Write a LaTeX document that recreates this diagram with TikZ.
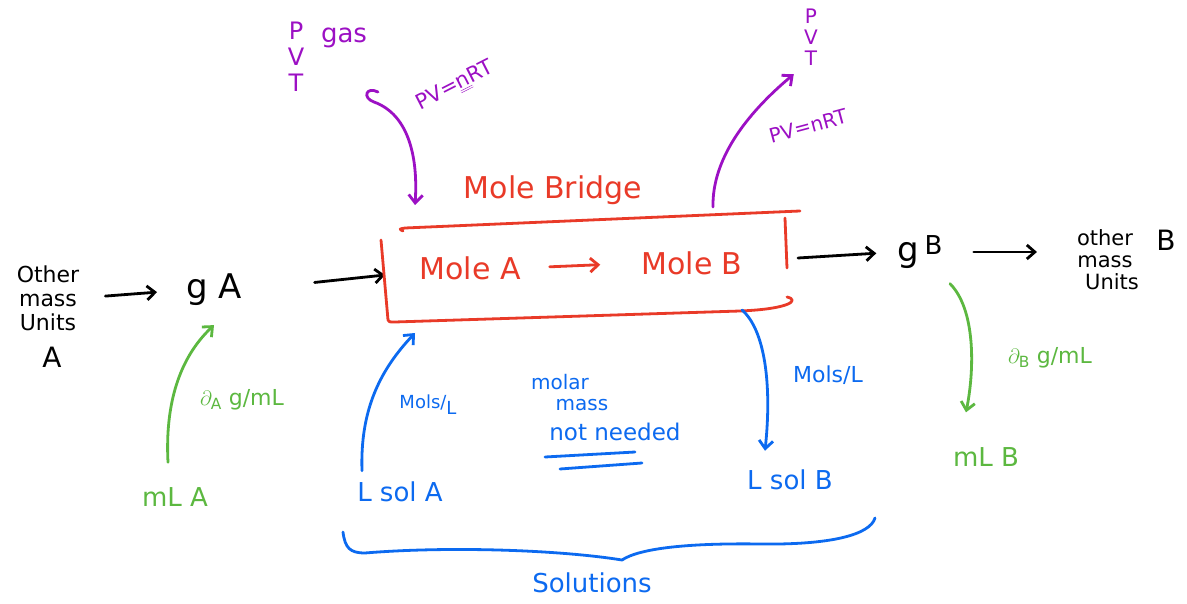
\documentclass[tikz,border=0pt]{standalone}
\usepackage{fontspec}
\setmainfont{DejaVu Sans}
\usetikzlibrary{arrows.meta}
\definecolor{hred}{RGB}{233,58,40}
\definecolor{hpur}{RGB}{156,16,196}
\definecolor{hblu}{RGB}{12,106,240}
\definecolor{hgrn}{RGB}{92,184,64}
\tikzset{
  ink/.style={line width=2.8pt,line cap=round,line join=round},
  arr/.style={ink,-{Straight Barb[length=8pt,width=14pt]}},
  txt/.style={inner sep=1pt,align=center},
  fs/.style={font=\fontsize{#1}{#1}\selectfont},
}
\begin{document}
\begin{tikzpicture}[x=1pt,y=-1pt]
\fill[white] (0,0) rectangle (1187,604);
\useasboundingbox (0,0) rectangle (1187,604);

% ---------- black: mass units and grams ----------
\node[txt,font=\fontsize{22}{24}\selectfont] (oA) at (48,298) {Other\\mass\\Units};
\node[txt,fs=28] (oAA) at (52,357) {A};
\node[txt,fs=34] (gA) at (214,290) {g A};
\draw[arr,shorten <=25pt,shorten >=28pt] (oA.east) -- (gA.west);

\coordinate (boxW) at (385,275);
\coordinate (boxE) at (798,258);
\coordinate (boxNW) at (415,205);
\coordinate (boxNE) at (713,207);
\coordinate (boxSW) at (415,333);
\coordinate (boxSE) at (742,310);
\coordinate (curlS) at (378,92);

\draw[arr,shorten <=72pt] (gA.east) -- (boxW);

\node[txt,fs=34] (gB) at (920,252) {g\,\raisebox{7pt}{\fontsize{26}{26}\selectfont B}};
\draw[arr,shorten >=20pt] (boxE) -- (gB.west);
\node[txt,font=\fontsize{21}{22}\selectfont] (oB) at (1105,260) {other\\mass\\\hspace*{14pt}Units};
\node[txt,fs=28] (oBB) at (1166,240) {B};
\draw[arr,shorten <=30pt,shorten >=33pt] (gB.east) -- (gB.east -| oB.west);

% ---------- red: mole bridge ----------
\draw[ink,hred] (403,231) .. controls (399,229) .. (405,228) -- (800,211);
\draw[ink,hred] (785,218) -- (787,268);
\draw[ink,hred] (381,240) -- (388,320) .. controls (389,322) .. (395,322)
  -- (740,311) .. controls (790,309) and (800,300) .. (787,297);
\node[txt,fs=30,hred] (mA) at (470,268) {Mole A};
\node[txt,fs=30,hred] (mB) at (692,263) {Mole B};
\draw[arr,hred,shorten <=28pt,shorten >=40pt] (mA.east) -- (mB.west);
\node[txt,fs=30,hred] (mBr) at (553,190) {Mole Bridge};

% ---------- purple: gas ----------
\node[txt,hpur,font=\fontsize{24}{26}\selectfont] (pvtL) at (296,57) {P\\V\\T};
\node[txt,hpur,fs=26] (gas) at (344,38) {gas};
\draw[arr,hpur] (curlS) .. controls (366,86) and (362,98) .. (374,102)
  .. controls (410,115) and (418,160) .. (boxNW);
\node[txt,hpur,fs=21,rotate=27,inner sep=0pt] (pv1) at (455,86) {PV=\underline{\underline{n}}RT};

\node[txt,hpur,font=\fontsize{20}{21}\selectfont] (pvtR) at (811,37) {P\\V\\T};
\draw[arr,hpur,shorten >=12pt] (boxNE) .. controls (712,160) and (745,115) .. (pvtR.south west);
\node[txt,hpur,fs=20,rotate=15,inner sep=0pt] (pv2) at (808,126) {PV=nRT};

% ---------- green: density ----------
\node[txt,hgrn,fs=26] (mLA) at (175,497) {mL A};
\draw[arr,hgrn] ([xshift=-7pt,yshift=24pt]mLA.north) .. controls +(-3,-58) and +(-35,33) .. ([yshift=-18pt]gA.south);
\node[txt,hgrn,fs=22] (dA) at (242,400) {$\partial_{\mathrm A}$ g/mL};

\node[txt,hgrn,fs=26] (mLB) at (986,457) {mL B};
\draw[arr,hgrn] ([xshift=30pt,yshift=-14pt]gB.south) .. controls +(25,25) and +(9,-45) .. ([xshift=-20pt,yshift=34pt]mLB.north);
\node[txt,hgrn,fs=22] (dB) at (1050,358) {$\partial_{\mathrm B}$ g/mL};

% ---------- blue: solutions ----------
\node[txt,hblu,fs=26] (lsA) at (400,492) {L sol A};
\draw[arr,hblu] ([xshift=-38pt,yshift=10pt]lsA.north) .. controls (360,410) and (380,370) .. (boxSW);
\node[txt,hblu,fs=18] (molsA) at (428,405) {Mols/\raisebox{-6pt}{L}};
\node[txt,hblu,fs=20] (molar) at (560,382) {molar};
\node[txt,hblu,fs=20] (mass) at (582,405) {mass};
\node[txt,hblu,fs=23] (nn) at (615,432) {not needed};
\draw[ink,hblu] (545,457) -- (635,452);
\draw[ink,hblu] (560,469) -- (642,463);

\node[txt,hblu,fs=26] (lsB) at (790,480) {L sol B};
\draw[arr,hblu] (boxSE) .. controls (765,330) and (772,385) .. ([xshift=-25pt,yshift=18pt]lsB.north);
\node[txt,hblu,fs=22] (molsB) at (828,375) {Mols/L};

\draw[ink,hblu] (343,532) .. controls (345,548) and (350,553) .. (365,553)
  .. controls (450,546) and (560,550) .. (622,560)
  .. controls (640,548) and (690,543) .. (760,544)
  .. controls (830,545) and (870,535) .. (875,518);
\node[txt,hblu,fs=26] (sol) at (592,583) {Solutions};
\end{tikzpicture}
\end{document}
